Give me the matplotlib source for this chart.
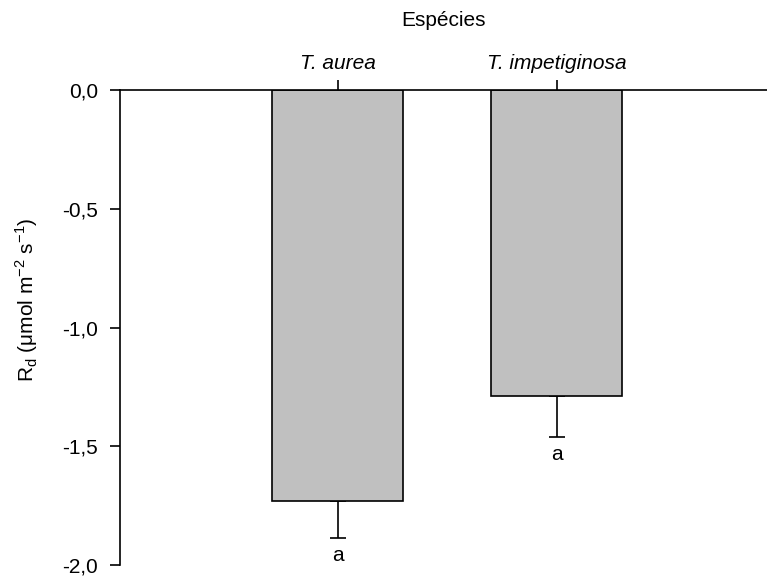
import matplotlib
matplotlib.use("Agg")
import matplotlib.pyplot as plt

plt.rcParams['font.family'] = ['Liberation Sans', 'DejaVu Sans']

species = ['T. aurea', 'T. impetiginosa']
rd_mean = [-1.73, -1.29]
rd_se = [0.155, 0.17]
letters = ['a', 'a']
yticks = [0.0, -0.5, -1.0, -1.5, -2.0]

FS = 15

fig = plt.figure(figsize=(7.67, 5.76), dpi=100)
ax = fig.add_axes([120 / 767, 11 / 576, 1 - 120 / 767, 475 / 576])

x = list(range(len(species)))
ax.bar(x, rd_mean, width=0.6, color='#c0c0c0', edgecolor='black', linewidth=1.2, zorder=2)
# one-sided error bars, pointing away from zero
ax.errorbar(x, rd_mean, yerr=[rd_se, [0] * len(x)], fmt='none', ecolor='black',
            elinewidth=1.2, capsize=5.5, capthick=1.2, zorder=1)
for xi, m, s, lab in zip(x, rd_mean, rd_se, letters):
    ax.text(xi, m - s - 0.035, lab, ha='center', va='top', fontsize=FS)

ax.set_xlim(-0.993, 1.96)
ax.set_ylim(-2.0, 0.0)
ax.set_yticks(yticks)
ax.set_yticklabels([f'{t:.1f}'.replace('.', ',') for t in yticks])

ax.xaxis.set_ticks_position('top')
ax.xaxis.set_label_position('top')
ax.set_xticks(x)
ax.set_xticklabels(species, fontstyle='italic')
ax.set_xlabel('Espécies', fontsize=FS)
ax.xaxis.set_label_coords(0.5, 1 + (90 - 26) / 475)
ax.set_ylabel(r'R$_\mathregular{d}$ ($\mathregular{\mu}$mol m$^\mathregular{-2}$ s$^\mathregular{-1}$)',
              fontsize=FS)
ax.yaxis.set_label_coords((40 - 120) / 647, 1 - (300 - 90) / 475)

for side in ('right', 'bottom'):
    ax.spines[side].set_visible(False)
for side in ('left', 'top'):
    ax.spines[side].set_linewidth(1.2)
ax.tick_params(axis='both', labelsize=FS, length=7, width=1.2, direction='out')
ax.tick_params(axis='x', pad=5)
ax.tick_params(axis='y', pad=9)

fig.savefig('out.png', dpi=100)
